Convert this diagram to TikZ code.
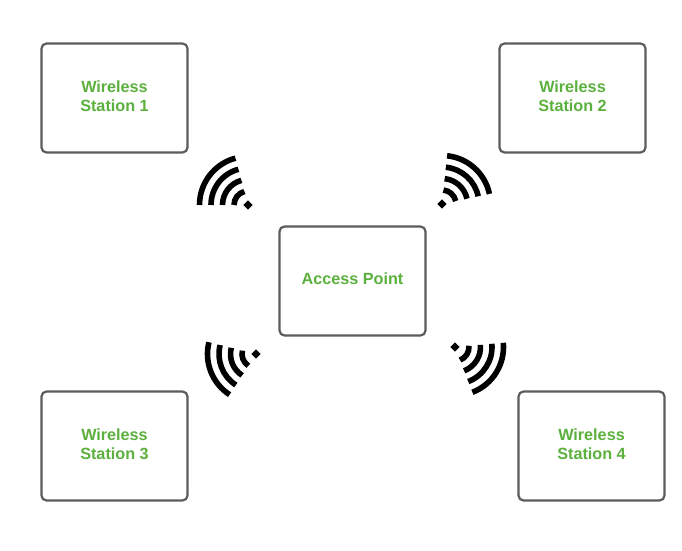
\documentclass[tikz,border=0pt]{standalone}
\usepackage{fontspec}
\setmainfont{Liberation Sans}
\usepackage{xcolor}
\definecolor{labelgreen}{RGB}{92,176,62}
\definecolor{boxgray}{RGB}{92,92,92}

\tikzset{
	station/.style = {draw = boxgray, line width = 2.2pt, rounded corners = 5pt, fill = white,
		minimum width = 146pt, minimum height = 109pt, align = center, inner sep = 0pt, text depth = 4pt,
		text = labelgreen, font = \fontsize{16.2}{19}\selectfont\bfseries},
	wave/.style = {line width = 5.6pt, black},
	beacon/.style = {fill = black, rectangle, rotate = 45, minimum size = 6.5pt, inner sep = 0pt}
}

\begin{document}
\begin{tikzpicture}[x = 1pt, y = 1pt]
			\useasboundingbox (0,0) rectangle (682,550);

			\node [station] (st1) at (114.5,452) {Wireless\\Station 1};
			\node [station] (st2) at (572.5,452) {Wireless\\Station 2};
			\node [station] (ap) at (352.5,269) {Access Point};
			\node [station] (st3) at (114.5,104) {Wireless\\Station 3};
			\node [station] (st4) at (591.5,104) {Wireless\\Station 4};

			% signal icons
			\foreach \i/\px/\py/\sa/\ea in {1/248/345/105/180, 2/442/346/84/12, 3/256/196/166/237, 4/455/203/5/-69}
			{
				\node [beacon] (sig\i) at (\px,\py) {};
				\foreach \r in {14,25.5,37,48.5}
				{
					\draw [wave] (sig\i.center) ++(\sa:\r pt) arc [start angle = \sa, end angle = \ea, radius = \r pt];
				}
			}
		\end{tikzpicture}
\end{document}
